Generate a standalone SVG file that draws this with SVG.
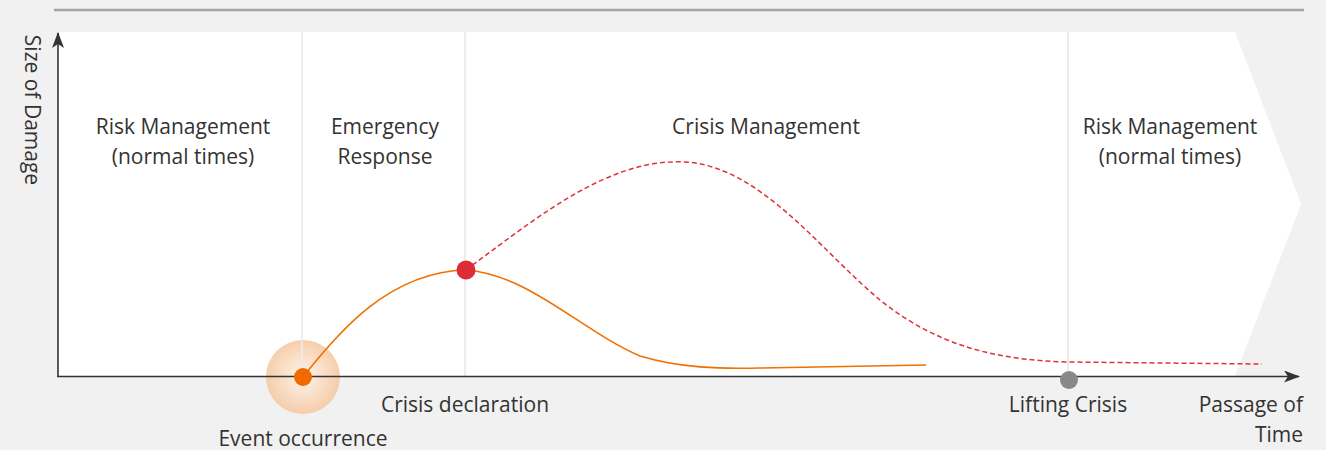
<svg xmlns="http://www.w3.org/2000/svg" width="1326" height="450" viewBox="0 0 1326 450">
<defs>
<style>
.t{font-family:"Open Sans","Liberation Sans",sans-serif;font-size:21px;fill:#333;text-anchor:middle}
.div{stroke:#ececec;stroke-width:2}
.axis{stroke:#333;stroke-width:1.6;fill:none}
</style>
<marker id="arr" viewBox="0 0 16 12" refX="15" refY="6" markerWidth="16" markerHeight="12" markerUnits="userSpaceOnUse" orient="auto">
<path d="M0,0 L16,6 L0,12 L4,6 Z" fill="#333"/>
</marker>
<radialGradient id="glow" cx="0.5" cy="0.5" r="0.5">
<stop offset="0" stop-color="#fff4ea"/>
<stop offset="1" stop-color="#f5c9a2"/>
</radialGradient>
</defs>
<rect width="1326" height="450" fill="#f1f1f1"/>
<line x1="54" y1="10" x2="1304" y2="10" stroke="#a4a4a4" stroke-width="2.5"/>
<polygon points="58,32 1235,32 1301,204 1235,376 58,376" fill="#fff"/>
<g id="event-glow">
<circle cx="303" cy="377" r="37" fill="url(#glow)" opacity="0.9"/>
</g>
<g id="dividers">
<line class="div" x1="302" y1="32" x2="302" y2="376" opacity="0.8"/>
<line class="div" x1="465" y1="32" x2="465" y2="376"/>
<line class="div" x1="1068" y1="32" x2="1068" y2="376"/>
</g>
<g id="phases">
<text class="t" x="183" y="134">Risk Management</text>
<text class="t" x="183" y="164">(normal times)</text>
<text class="t" x="385" y="134">Emergency</text>
<text class="t" x="385" y="164">Response</text>
<text class="t" x="766" y="134">Crisis Management</text>
<text class="t" x="1170" y="134">Risk Management</text>
<text class="t" x="1170" y="164">(normal times)</text>
</g>
<g id="connectors">
<path d="M466,270 C540,215 610,158 685,162 C760,166 820,250 880,300 C940,348 1000,360 1068,362 L1262,364" fill="none" stroke="#e0303a" stroke-width="1.5" stroke-dasharray="5,3"/>
<path d="M303,377 C340,330 390,272 466,270 C530,275 580,330 640,356 C680,368 720,369 760,368 L926,365" fill="none" stroke="#f07000" stroke-width="1.6"/>
</g>
<g id="axes">
<line class="axis" x1="58" y1="377" x2="58" y2="33" marker-end="url(#arr)"/>
<line class="axis" x1="57" y1="376.5" x2="1299" y2="376.5" marker-end="url(#arr)"/>
<text class="t" transform="translate(25,110) rotate(90)">Size of Damage</text>
<text class="t" x="1303" y="412" style="text-anchor:end">Passage of</text>
<text class="t" x="1303" y="442" style="text-anchor:end">Time</text>
</g>
<g id="event">
<circle cx="303" cy="377" r="9" fill="#f06a00"/>
<text class="t" x="303" y="446">Event occurrence</text>
</g>
<g id="declaration">
<circle cx="466" cy="270" r="9.5" fill="#dd2c33"/>
<text class="t" x="465" y="412">Crisis declaration</text>
</g>
<g id="lifting">
<circle cx="1069" cy="380" r="9" fill="#888"/>
<text class="t" x="1068" y="412">Lifting Crisis</text>
</g>
</svg>
